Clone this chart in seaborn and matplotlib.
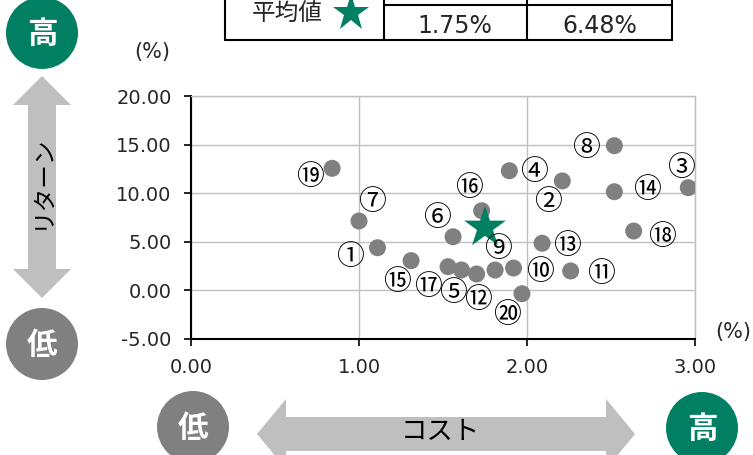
import matplotlib
matplotlib.use("Agg")
import matplotlib.pyplot as plt
import matplotlib.patches as mpatches
from matplotlib.ticker import FuncFormatter
import seaborn as sns
import pandas as pd

# data (cost %, return %)
fund_no = list(range(1, 21))
cost = [1.11, 2.21, 2.96, 1.895, 1.61, 1.56, 1.00, 2.52, 1.81, 1.92,
        2.26, 1.70, 2.09, 2.52, 1.31, 1.73, 1.53, 2.635, 0.84, 1.97]
ret = [4.39, 11.26, 10.57, 12.31, 2.10, 5.52, 7.14, 14.89, 2.10, 2.30,
       2.00, 1.69, 4.85, 10.15, 3.06, 8.20, 2.44, 6.11, 12.56, -0.34]
avg_cost = 1.75
avg_ret = 6.48
x_ticks = [0.0, 1.0, 2.0, 3.0]
y_ticks = [-5.0, 0.0, 5.0, 10.0, 15.0, 20.0]

# label offsets from each dot, in pixels (dx right, dy down)
label_off = [(-28, 9), (-14, 21), (-7, -20), (25, 1), (-9, 23), (-16, -19),
             (13, -19), (-28, 2), (3, -21), (26, 4), (30, 3), (1, 26),
             (25, 3), (33, -2), (-14, 21), (-13, -23), (-20, 20), (28, 6),
             (-22, 9), (-15, 21)]

GREEN = "#007F62"
GRAY = "#808080"
LIGHT = "#BFBFBF"
W, H = 753, 455

sns.set_theme(style="white")
plt.rcParams['font.family'] = ['DejaVu Sans', 'Noto Sans CJK JP']
plt.rcParams['axes.unicode_minus'] = False
JP = ['Noto Sans CJK JP', 'DejaVu Sans']

df = pd.DataFrame({"no": fund_no, "cost": cost, "ret": ret})

fig = plt.figure(figsize=(W / 100, H / 100), dpi=100)
ax = fig.add_axes([191 / W, (H - 339) / H, 504 / W, 243 / H])

sns.scatterplot(data=df, x="cost", y="ret", ax=ax, color=GRAY, s=150,
                edgecolor="none", zorder=3)
sns.scatterplot(x=[avg_cost], y=[avg_ret], ax=ax, marker="*", color=GREEN,
                s=1000, edgecolor="none", zorder=4)

circled = [chr(0x2460 + i - 1) for i in fund_no]
for i, (x, y) in enumerate(zip(cost, ret)):
    dx, dy = label_off[i]
    ax.annotate(circled[i], (x, y), xytext=(dx, -dy), textcoords="offset pixels",
                ha="center", va="center", fontsize=20, family=JP, color="black",
                zorder=5)

ax.set_xlim(0, 3)
ax.set_ylim(-5, 20)
ax.set_xticks(x_ticks)
ax.set_yticks(y_ticks)
fmt = FuncFormatter(lambda v, p: f"{v:.2f}")
ax.xaxis.set_major_formatter(fmt)
ax.yaxis.set_major_formatter(fmt)
ax.set_xlabel("")
ax.set_ylabel("")
ax.grid(True, color=LIGHT, lw=1)
ax.set_axisbelow(True)
for side in ["top", "right"]:
    ax.spines[side].set_color(LIGHT)
    ax.spines[side].set_linewidth(1)
for side in ["left", "bottom"]:
    ax.spines[side].set_color("black")
    ax.spines[side].set_linewidth(1.5)
ax.tick_params(axis="both", direction="out", length=5, width=1.2,
               color="black", labelsize=14, pad=9, left=True, bottom=True)

# overlay in pixel coordinates for the decorations
ov = fig.add_axes([0, 0, 1, 1], zorder=-1)
ov.set_xlim(0, W)
ov.set_ylim(H, 0)
ov.axis("off")


def double_arrow(x0, y0, x1, y1, shaft, head, head_len, color):
    # polygon for a two-headed arrow along x (horizontal) or y (vertical)
    if y0 == y1:
        c = y0
        pts = [(x0, c), (x0 + head_len, c - head), (x0 + head_len, c - shaft),
               (x1 - head_len, c - shaft), (x1 - head_len, c - head), (x1, c),
               (x1 - head_len, c + head), (x1 - head_len, c + shaft),
               (x0 + head_len, c + shaft), (x0 + head_len, c + head)]
    else:
        c = x0
        pts = [(c, y0), (c + head, y0 + head_len), (c + shaft, y0 + head_len),
               (c + shaft, y1 - head_len), (c + head, y1 - head_len), (c, y1),
               (c - head, y1 - head_len), (c - shaft, y1 - head_len),
               (c - shaft, y0 + head_len), (c - head, y0 + head_len)]
    ov.add_patch(mpatches.Polygon(pts, closed=True, color=color, lw=0))


def badge(cx, cy, text, color):
    ov.add_patch(mpatches.Circle((cx, cy), 36, color=color, lw=0))
    ov.text(cx, cy + 1, text, ha="center", va="center", color="white",
            fontsize=22, fontweight="bold", family=JP)


# vertical (return) axis decoration
badge(42, 33, "高", GREEN)
double_arrow(42, 76, 42, 298, 14, 29, 29, LIGHT)
ov.text(42, 182, "リターン", rotation=90, ha="center", va="center",
        fontsize=17, family=JP, color="black")
badge(42, 344, "低", GRAY)

# horizontal (cost) axis decoration
badge(193, 427, "低", GRAY)
double_arrow(257, 434, 635, 434, 17, 35, 29, LIGHT)
ov.text(440, 431, "コスト", ha="center", va="center", fontsize=19,
        family=JP, color="black")
badge(702, 428, "高", GREEN)

# unit labels
ov.text(152, 52, "(%)", ha="center", va="center", fontsize=15)
ov.text(733, 332, "(%)", ha="center", va="center", fontsize=15)

# average table at the top (header row is cut by the top edge, as in the original)
lw = 1.5
for x in [225, 384, 527, 672]:
    ov.plot([x, x], [-2, 40], color="black", lw=lw)
ov.plot([225, 672], [40, 40], color="black", lw=lw)
ov.plot([384, 672], [5, 5], color="black", lw=lw)
ov.text(455, -9, "コスト", ha="center", va="center", fontsize=17, family=JP)
ov.text(600, -9, "リターン", ha="center", va="center", fontsize=17, family=JP)
ov.text(455, 26, f"{avg_cost:.2f}%", ha="center", va="center", fontsize=17)
ov.text(600, 26, f"{avg_ret:.2f}%", ha="center", va="center", fontsize=17)
ov.text(287, 14, "平均値", ha="center", va="center", fontsize=17, family=JP)
ov.plot([351], [13], marker="*", color=GREEN, markersize=28, mew=0)

fig.savefig("out.png", dpi=100)
plt.close(fig)
